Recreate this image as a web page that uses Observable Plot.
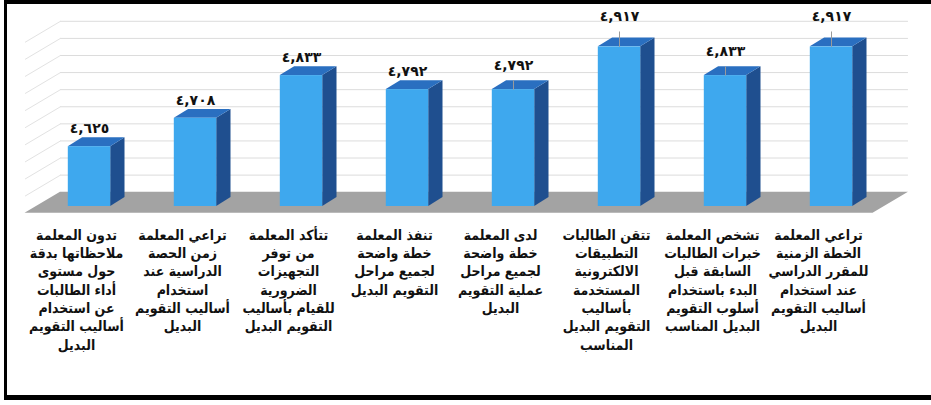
<!DOCTYPE html>
<html>
<head>
<meta charset="utf-8">
<script src="https://cdn.jsdelivr.net/npm/d3@7"></script>
<script src="https://cdn.jsdelivr.net/npm/@observablehq/plot@0.6"></script>
<style>
  html, body { margin: 0; padding: 0; background: #fff; overflow: hidden; }
  #wrap { position: relative; width: 931px; height: 405px; overflow: hidden; }
  #frame { position: absolute; left: 4px; top: 0; width: 1000px; height: 400px; box-sizing: border-box;
           border-top: 4.5px solid #000; border-left: 3.5px solid #000; border-bottom: 5px solid #000;
           pointer-events: none; }
</style>
</head>
<body>
<div id="wrap"><div id="chart"></div><div id="frame"></div></div>
<script>
// ---- data ----
const categories = [
  "تدون المعلمة\nملاحظاتها بدقة\nحول مستوى\nأداء الطالبات\nعن استخدام\nأساليب التقويم\nالبديل",
  "تراعي المعلمة\nزمن الحصة\nالدراسية عند\nاستخدام\nأساليب التقويم\nالبديل",
  "تتأكد المعلمة\nمن توفر\nالتجهيزات\nالضرورية\nللقيام بأساليب\nالتقويم البديل",
  "تنفذ المعلمة\nخطة واضحة\nلجميع مراحل\nالتقويم البديل",
  "لدى المعلمة\nخطة واضحة\nلجميع مراحل\nعملية التقويم\nالبديل",
  "تتقن الطالبات\nالتطبيقات\nالالكترونية\nالمستخدمة\nبأساليب\nالتقويم البديل\nالمناسب",
  "تشخص المعلمة\nخبرات الطالبات\nالسابقة قبل\nالبدء باستخدام\nأسلوب التقويم\nالبديل المناسب",
  "تراعي المعلمة\nالخطة الزمنية\nللمقرر الدراسي\nعند استخدام\nأساليب التقويم\nالبديل"
];
const values = [4.625, 4.708, 4.833, 4.792, 4.792, 4.917, 4.833, 4.917];
const gridValues = [4.5, 4.55, 4.6, 4.65, 4.7, 4.75, 4.8, 4.85, 4.9, 4.95];
const yDomain = [4.45, 5.0];

// ---- helpers ----
const xDomain = [-0.5, categories.length - 0.5];
const arabicDigits = "٠١٢٣٤٥٦٧٨٩";
const fmt = v => d3.format(".3f")(v).replace(/\d/g, d => arabicDigits[d]).replace(".", ",");

const rows = values.map((v, i) => ({i, v, label: fmt(v)}));

// 3D depth (in scale units)
const HALF = 0.2;                 // half bar width
const BAR_DX = 0.135, BAR_DV = 0.026;   // bar depth
const BACK_DX = 0.226, BACK_DV = 0.0418; // back wall offset
const FRONT_DX = 0.108, FRONT_DV = 0.0196; // floor front offset
const base = yDomain[0];

const sideFaces = rows.flatMap(d => [
  {i: d.i, x: d.i + HALF, y1: base, y2: d.v},
  {i: d.i, x: d.i + HALF + BAR_DX, y1: base + BAR_DV, y2: d.v + BAR_DV}
]);
const topFaces = rows.flatMap(d => [
  {i: d.i, y: d.v, x1: d.i - HALF, x2: d.i + HALF},
  {i: d.i, y: d.v + BAR_DV, x1: d.i - HALF + BAR_DX, x2: d.i + HALF + BAR_DX}
]);
const floor = [
  {y: base - FRONT_DV, x1: xDomain[0] - FRONT_DX, x2: xDomain[1] - FRONT_DX},
  {y: base + BACK_DV, x1: xDomain[0] + BACK_DX, x2: xDomain[1] + BACK_DX}
];

const font = "DejaVu Sans";
const labelFont = "'DejaVu Sans Condensed', 'DejaVu Sans', sans-serif";
const chart = Plot.plot({
  width: 931,
  height: 405,
  marginLeft: 36,
  marginRight: 47,
  marginTop: 18,
  marginBottom: 199,
  style: {background: "transparent", fontFamily: font, overflow: "visible"},
  x: {domain: xDomain, axis: null},
  y: {domain: yDomain, axis: null},
  marks: [
    // back wall gridlines
    Plot.ruleY(gridValues, {y: v => v + BACK_DV, x1: xDomain[0] + BACK_DX, x2: xDomain[1] + BACK_DX, stroke: "#dcdcdc", strokeWidth: 1}),
    // side wall gridlines
    Plot.link(gridValues, {x1: xDomain[0] + BACK_DX, y1: v => v + BACK_DV, x2: xDomain[0] - FRONT_DX, y2: v => v - FRONT_DV, stroke: "#e2e2e2", strokeWidth: 1}),
    // floor
    Plot.areaX(floor, {y: "y", x1: "x1", x2: "x2", fill: "#a3a3a3"}),
    // bars: side, top, front
    Plot.areaY(sideFaces, {x: "x", y1: "y1", y2: "y2", z: "i", fill: "#1f4f8f"}),
    Plot.areaX(topFaces, {y: "y", x1: "x1", x2: "x2", z: "i", fill: "#2a6fc0"}),
    Plot.rectY(rows, {x1: d => d.i - HALF, x2: d => d.i + HALF, y1: base, y2: "v", fill: "#3ea8ee"}),
    // leader lines
    Plot.link(rows.filter(d => d.i === 4 || d.i === 6), {x1: "i", x2: "i", y1: "v", y2: d => d.v + 0.027, stroke: "#9a9a9a", strokeWidth: 1}),
    Plot.link(rows.filter(d => d.i === 5 || d.i === 7), {x1: "i", x2: "i", y1: "v", y2: d => d.v + 0.045, stroke: "#9a9a9a", strokeWidth: 1}),
    // value labels
    Plot.text(rows.filter(d => d.i < 4), {x: "i", y: "v", text: "label", dy: -18, fontSize: 14, fontWeight: "bold", fill: "#111"}),
    Plot.text(rows.filter(d => d.i === 4 || d.i === 6), {x: "i", y: "v", text: "label", dy: -24, fontSize: 14, fontWeight: "bold", fill: "#111"}),
    Plot.text(rows.filter(d => d.i === 5 || d.i === 7), {x: "i", y: "v", text: "label", dy: -30, fontSize: 14, fontWeight: "bold", fill: "#111"}),
    // category axis
    Plot.axisX(d3.range(categories.length), {
      tickFormat: i => categories[i],
      tickSize: 0, tickPadding: 20, dx: -13,
      fontSize: 14, lineHeight: 1.31, fontWeight: "bold",
      fontFamily: labelFont,
      lineAnchor: "top", fill: "#111"
    })
  ]
});
document.getElementById("chart").appendChild(chart);
</script>
</body>
</html>
